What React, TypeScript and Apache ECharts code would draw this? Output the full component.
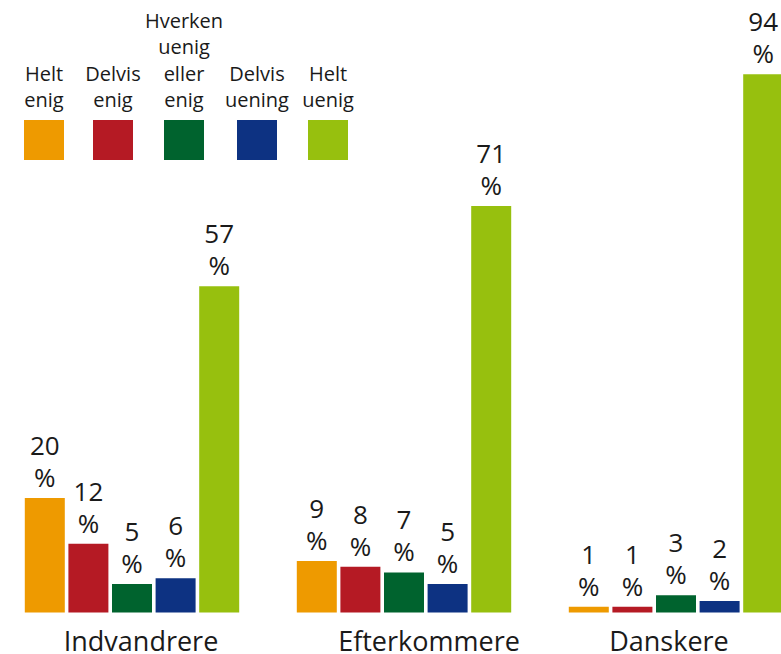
import React, { useEffect, useRef } from "react";
import * as echarts from "echarts";

const categories = ["Indvandrere", "Efterkommere", "Danskere"];
const seriesNames = ["Helt\nenig", "Delvis\nenig", "Hverken\nuenig\neller\nenig", "Delvis\nuening", "Helt\nuenig"];
const heltEnig = [20, 9, 1];
const delvisEnig = [12, 8, 1];
const hverken = [5, 7, 3];
const delvisUening = [6, 5, 2];
const heltUenig = [57, 71, 94];
const colors = ["#EE9A00", "#B51A24", "#00632E", "#0D3282", "#97C00E"];
const legendCenters = [44, 113, 184, 257, 328];
const labelShift = [9, 25, -7];

const FONT = "'Open Sans', 'Noto Sans', sans-serif";
const OFFSET = 4;

export default function App() {
  const ref = useRef<HTMLDivElement>(null);
  useEffect(() => {
    if (!ref.current) return;
    const chart = echarts.init(ref.current, undefined, { renderer: "svg" });
    const values = [heltEnig, delvisEnig, hverken, delvisUening, heltUenig];
    const graphic: any[] = [];
    seriesNames.forEach((n, i) => {
      graphic.push({
        type: "rect",
        shape: { x: legendCenters[i] + OFFSET - 20, y: 120, width: 40, height: 40 },
        style: { fill: colors[i] },
      });
      graphic.push({
        type: "text",
        x: legendCenters[i] + OFFSET,
        y: 113,
        style: {
          text: n,
          fill: "#1a1a1a",
          fontSize: 20,
          fontFamily: FONT,
          lineHeight: 26.5,
          align: "center",
          verticalAlign: "bottom",
        },
      });
    });
    const rich: any = {};
    labelShift.forEach((s, i) => {
      rich["c" + i] = {
        fontSize: 27,
        lineHeight: 24,
        color: "#1a1a1a",
        fontFamily: FONT,
        padding: s >= 0 ? [0, 0, 0, 2 * s] : [0, -2 * s, 0, 0],
      };
    });
    chart.setOption({
      animation: false,
      grid: { left: 0, right: 0, top: 40, bottom: 41, containLabel: false },
      xAxis: {
        type: "category",
        data: categories,
        axisLine: { show: false },
        axisTick: { show: false },
        axisLabel: {
          margin: 16,
          formatter: (v: string, idx: number) => `{c${idx}|${v}}`,
          rich,
        },
      },
      yAxis: { type: "value", min: 0, max: 100, show: false, splitLine: { show: false } },
      graphic,
      series: values.map((v, i) => ({
        type: "bar",
        name: seriesNames[i],
        data: v,
        barWidth: 40,
        barGap: "9%",
        itemStyle: { color: colors[i] },
        label: {
          show: true,
          position: "top",
          distance: 5,
          formatter: (p: any) => `${p.value}\n%`,
          fontSize: 26,
          lineHeight: 32,
          color: "#1a1a1a",
          fontFamily: FONT,
        },
      })),
    });
    return () => chart.dispose();
  }, []);
  return (
    <div style={{ position: "absolute", left: 0, top: 0, width: 781, height: 654, overflow: "hidden" }}>
      <div ref={ref} style={{ position: "absolute", left: -OFFSET, top: 0, width: 816, height: 654 }} />
    </div>
  );
}
